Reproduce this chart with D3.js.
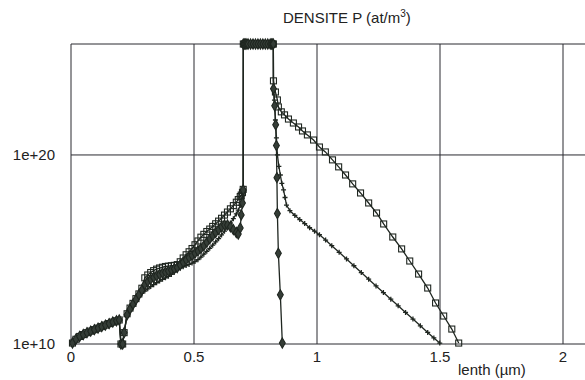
<!DOCTYPE html>
<html>
<head>
<meta charset="utf-8">
<script src="https://cdn.jsdelivr.net/npm/d3@7"></script>
<style>
  html, body { margin: 0; padding: 0; background: #fff; overflow: hidden; }
  svg { display: block; }
  text { font-family: "Liberation Sans", Arial, sans-serif; fill: #222; }
</style>
</head>
<body>
<script>
// DENSITE P profile, log scale, three simulated curves

const margin = {top: 44, left: 71, bottom: 36};
const outerWidth = 585;
const outerHeight = 380;
const innerHeight = outerHeight - margin.top - margin.bottom;   // 300
const plotWidth = 514;                                          // frame runs to the right edge like the scan

// x positions (µm) shared by the three curves left of the junction
const xLeft = [0.006, 0.02, 0.035, 0.05, 0.065, 0.08, 0.095, 0.11, 0.125, 0.14, 0.155, 0.17, 0.185, 0.196,
               0.203, 0.21, 0.216,
               0.228, 0.24, 0.252, 0.264, 0.276, 0.288, 0.30, 0.312, 0.324, 0.336, 0.348, 0.36, 0.372, 0.384,
               0.396, 0.408, 0.42, 0.432, 0.444, 0.456, 0.468, 0.48, 0.492, 0.504, 0.516, 0.528, 0.54, 0.552,
               0.564, 0.576, 0.588, 0.60, 0.612, 0.624, 0.636, 0.648, 0.66, 0.672,
               0.68, 0.688, 0.692, 0.697, 0.70];

// log10 of density (at/m3)
const logSquareLeft = [10.05, 10.25, 10.4, 10.5, 10.6, 10.68, 10.76, 10.84, 10.92, 11.0, 11.08, 11.16, 11.23, 11.27,
               10.0, 10.0, 10.6,
               11.6, 11.9, 12.15, 12.4, 12.65, 12.95, 13.5, 13.65, 13.78, 13.88, 13.96, 14.02, 14.06, 14.1,
               14.12, 14.14, 14.16, 14.2, 14.35, 14.55, 14.72, 14.88, 15.05, 15.25, 15.45, 15.65, 15.8, 15.95,
               16.08, 16.22, 16.36, 16.5, 16.65, 16.82, 16.98, 17.15, 17.32, 17.5,
               17.64, 17.8, 17.88, 18.02, 18.18];

const logPlusLeft = [10.05, 10.25, 10.4, 10.5, 10.6, 10.68, 10.76, 10.84, 10.92, 11.0, 11.08, 11.16, 11.23, 11.27,
               10.0, 10.0, 10.6,
               11.5, 11.8, 12.05, 12.3, 12.5, 12.68, 12.8, 12.92, 13.04, 13.14, 13.24, 13.33, 13.42, 13.5,
               13.58, 13.68, 13.8, 13.93, 14.02, 14.08, 14.15, 14.21, 14.28, 14.36, 14.46, 14.6, 14.75, 14.9,
               15.06, 15.23, 15.4, 15.57, 15.77, 15.97, 16.17, 16.4, 16.63, 16.88,
               17.08, 17.33, 17.48, 17.68, 17.85];

const logDiamondLeft = [10.05, 10.25, 10.4, 10.5, 10.6, 10.68, 10.76, 10.84, 10.92, 11.0, 11.08, 11.16, 11.23, 11.27,
               10.0, 10.0, 10.6,
               11.55, 11.85, 12.1, 12.35, 12.6, 12.85, 13.15, 13.3, 13.42, 13.52, 13.6, 13.68, 13.75, 13.8,
               13.86, 13.92, 13.98, 14.05, 14.18, 14.32, 14.45, 14.57, 14.68, 14.8, 14.92, 15.05, 15.2, 15.38,
               15.56, 15.73, 15.9, 16.05, 16.2, 16.3, 16.3, 16.2, 16.05, 15.9,
               15.82, 16.14, 16.83, 17.46, 18.15];

// off-scale zone (all curves above the top of the plot)
const xTop = [0.7005, 0.705, 0.71, 0.715, 0.72, 0.73, 0.74, 0.75, 0.76, 0.77, 0.78, 0.79, 0.80, 0.81, 0.815, 0.82, 0.8225];
const logTop = [27, 27, 27, 27, 27, 27, 27, 27, 27, 27, 27, 27, 27, 27, 27, 27, 27];

// right of the junction
const xSquareRight = [0.823, 0.831, 0.839, 0.843, 0.855, 0.868, 0.884, 0.904, 0.925, 0.941, 0.961, 0.986, 1.010,
               1.034, 1.063, 1.088, 1.116, 1.145, 1.177, 1.210, 1.242, 1.271, 1.308, 1.344, 1.377, 1.413,
               1.450, 1.482, 1.515, 1.548, 1.576];
const logSquareRight = [23.92, 23.33, 22.91, 22.54, 22.28, 22.12, 21.90, 21.69, 21.48, 21.27, 21.06, 20.79, 20.42,
               20.16, 19.74, 19.37, 18.94, 18.47, 17.99, 17.46, 16.93, 16.35, 15.66, 15.03, 14.39, 13.70,
               12.96, 12.17, 11.48, 10.79, 10.05];

const xPlusRight = [0.823, 0.827, 0.831, 0.835, 0.839, 0.845, 0.851, 0.857, 0.864, 0.870, 0.876, 0.89, 0.91, 0.93,
               0.95, 0.97, 0.99, 1.01, 1.035, 1.06, 1.09, 1.12, 1.15, 1.18, 1.21, 1.24, 1.27, 1.30, 1.33, 1.36,
               1.39, 1.42, 1.45, 1.475, 1.499];
const logPlusRight = [23.54, 22.9, 21.85, 20.9, 20.0, 19.4, 18.94, 18.5, 18.15, 17.75, 17.35, 17.05, 16.8, 16.58,
               16.37, 16.15, 15.97, 15.78, 15.5, 15.2, 14.85, 14.5, 14.14, 13.78, 13.43, 13.07, 12.72, 12.37,
               12.02, 11.67, 11.32, 10.96, 10.61, 10.32, 10.05];

const xDiamondRight = [0.823, 0.828, 0.832, 0.835, 0.837, 0.839, 0.843, 0.851, 0.859];
const logDiamondRight = [23.5, 22.6, 21.6, 20.5, 18.8, 16.9, 14.8, 12.6, 10.05];

const xTicks = [0, 0.5, 1, 1.5, 2];
const xTickLabels = ["0", "0.5", "1", "1.5", "2"];
const yTicks = [1e10, 1e20];
const yTickLabels = ["1e+10", "1e+20"];
const yMax = 7.4e25;

function build(xs, ls) { return xs.map((x, i) => ({x: x, v: Math.pow(10, ls[i])})); }

const series = [
  {name: "square",  pts: build(xLeft, logSquareLeft).concat(build(xTop, logTop), build(xSquareRight, logSquareRight))},
  {name: "plus",    pts: build(xLeft, logPlusLeft).concat(build(xTop, logTop), build(xPlusRight, logPlusRight))},
  {name: "diamond", pts: build(xLeft, logDiamondLeft).concat(build(xTop, logTop), build(xDiamondRight, logDiamondRight))}
];

const svg = d3.select("body").append("svg")
    .attr("width", outerWidth)
    .attr("height", outerHeight);

const inner = svg.append("g")
    .attr("transform", "translate(" + margin.left + "," + margin.top + ")");

const xScale = d3.scaleLinear().domain([0, 2]).range([0, 492]);
const yScale = d3.scaleLog().domain([1e10, yMax]).range([innerHeight, 0]).clamp(true);

const ink = "#1f2620";
const gridCol = "#2a2a30";

// grid + frame
inner.selectAll(".vgrid")
    .data(xTicks.slice(1))
    .join("line")
    .attr("class", "vgrid")
    .attr("x1", d => xScale(d)).attr("x2", d => xScale(d))
    .attr("y1", 0).attr("y2", innerHeight)
    .attr("stroke", gridCol).attr("stroke-width", 1);

inner.selectAll(".hgrid")
    .data([yTicks[1], yMax, yTicks[0]])
    .join("line")
    .attr("class", "hgrid")
    .attr("x1", 0).attr("x2", plotWidth)
    .attr("y1", d => yScale(d)).attr("y2", d => yScale(d))
    .attr("stroke", gridCol).attr("stroke-width", 1);

inner.append("line")
    .attr("x1", 0).attr("x2", 0)
    .attr("y1", 0).attr("y2", innerHeight)
    .attr("stroke", gridCol).attr("stroke-width", 1);

// tick labels, placed in page coordinates
svg.selectAll(".xlab")
    .data(xTicks)
    .join("text")
    .attr("class", "xlab")
    .attr("x", d => margin.left + xScale(d))
    .attr("y", margin.top + innerHeight + 18)
    .attr("text-anchor", "middle")
    .style("font-size", "15px")
    .text((d, i) => xTickLabels[i]);

svg.selectAll(".ylab")
    .data(yTicks)
    .join("text")
    .attr("class", "ylab")
    .attr("x", margin.left - 16)
    .attr("y", d => margin.top + yScale(d) + 5)
    .attr("text-anchor", "end")
    .style("font-size", "15px")
    .text((d, i) => yTickLabels[i]);

// curves
const line = d3.line().x(d => xScale(d.x)).y(d => yScale(d.v));

inner.selectAll(".curve")
    .data(series)
    .join("path")
    .attr("class", "curve")
    .attr("d", d => line(d.pts))
    .attr("fill", "none")
    .attr("stroke", ink)
    .attr("stroke-width", 1.3);

// markers
inner.selectAll(".sq")
    .data(series[0].pts)
    .join("rect")
    .attr("class", "sq")
    .attr("x", d => xScale(d.x) - 3)
    .attr("y", d => yScale(d.v) - 3)
    .attr("width", 6).attr("height", 6)
    .attr("fill", "none")
    .attr("stroke", ink).attr("stroke-width", 1.1);

inner.selectAll(".pl")
    .data(series[1].pts)
    .join("path")
    .attr("class", "pl")
    .attr("d", d => {
      const cx = xScale(d.x), cy = yScale(d.v);
      return "M" + (cx - 2.5) + "," + cy + "H" + (cx + 2.5) + "M" + cx + "," + (cy - 2.5) + "V" + (cy + 2.5);
    })
    .attr("stroke", ink).attr("stroke-width", 1.3);

inner.selectAll(".dm")
    .data(series[2].pts)
    .join("path")
    .attr("class", "dm")
    .attr("d", d3.symbol().type(d3.symbolDiamond).size(30))
    .attr("transform", d => "translate(" + xScale(d.x) + "," + yScale(d.v) + ")")
    .attr("fill", "#353d37")
    .attr("stroke", ink).attr("stroke-width", 1.1);

// title and axis name
const title = svg.append("text")
    .attr("x", 283).attr("y", 23)
    .style("font-size", "15px");
title.append("tspan").text("DENSITE P (at/m");
title.append("tspan").text("3").style("font-size", "10px").attr("dy", -6);
title.append("tspan").text(")").attr("dy", 6);

svg.append("text")
    .attr("x", 458).attr("y", 375)
    .style("font-size", "15px")
    .text("lenth (µm)");
</script>
</body>
</html>
